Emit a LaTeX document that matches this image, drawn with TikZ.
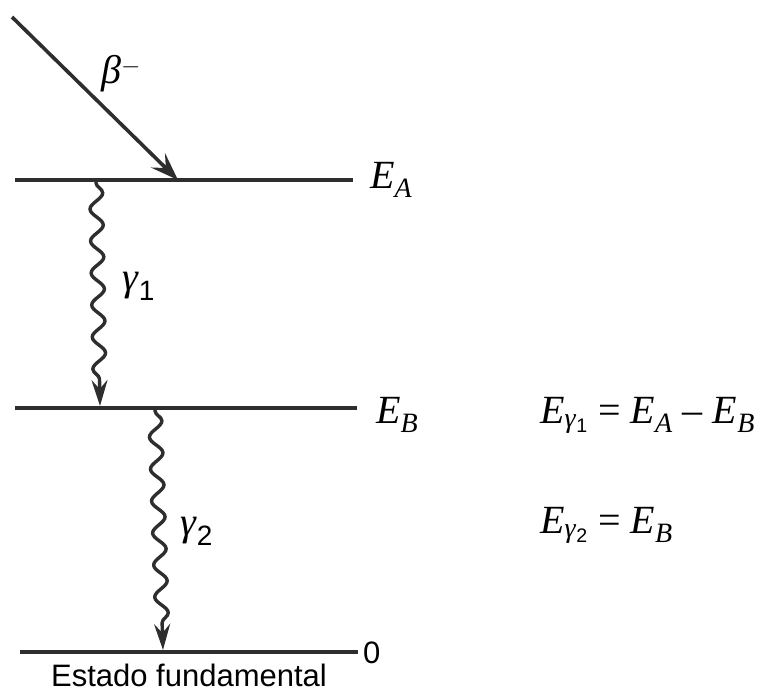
\documentclass[tikz,border=0pt]{standalone}
\usepackage{amsmath}
\usepackage{fontspec}
\setmainfont{Liberation Serif}
\newfontfamily\arialfont{Liberation Sans}
\usetikzlibrary{arrows.meta,decorations.pathmorphing}
\newcommand\Ei[1]{\textit{E}$_{\text{\textit{#1}}}$}
\newcommand\Eg[1]{\textit{E}$_{\text{\textit{γ}$_{\text{\arialfont #1}}$}}$}
\begin{document}
\begin{tikzpicture}[x=1pt,y=-1pt,
  ink/.style={draw=black!82},
  level/.style={ink, line width=3.6pt},
  tip/.style={-{Stealth[length=28pt,width=20pt,inset=11pt]}},
  wtip/.style={-{Stealth[length=26pt,width=16pt,inset=9pt]}},
  wavy/.style={ink, line width=3.4pt, wtip,
    decorate, decoration={snake, amplitude=6.5pt, segment length=32pt, post length=26pt, pre length=2pt}},
  lbl/.style={inner sep=0pt, font=\fontsize{40}{42}\selectfont},
  sans/.style={inner sep=0pt, font=\arialfont\fontsize{31}{33}\selectfont}]
\useasboundingbox (0,0) rectangle (758,694);
\coordinate (A1) at (15,180);
\coordinate (A2) at (353,180);
\coordinate (B1) at (15,408);
\coordinate (B2) at (357,408);
\coordinate (F1) at (20,652);
\coordinate (F2) at (358,652);
\coordinate (betaS) at (12,17);
\coordinate (betaE) at (178,180);
\coordinate (g1S) at (96,181);
\coordinate (g1E) at (100,406);
\coordinate (g2S) at (155,409);
\coordinate (g2E) at (163,650);
\draw[level] (A1) -- (A2);
\draw[level] (B1) -- (B2);
\draw[level] (F1) -- (F2);
\draw[ink, line width=3.6pt, tip] (betaS) -- (betaE);
\draw[wavy] (g1S) -- (g1E);
\draw[wavy] (g2S) -- (g2E);
\node[lbl, anchor=base west] (beta) at (101,83) {\textit{β}$^{-}$};
\node[lbl, anchor=base west] (EA) at (370,188) {\Ei{A}};
\node[lbl, anchor=base west] (EB) at (376,423) {\Ei{B}};
\node[lbl, anchor=base west] (g1) at (122,290) {\textit{γ}$_{\text{\arialfont 1}}$};
\node[lbl, anchor=base west] (g2) at (180,535) {\textit{γ}$_{\text{\arialfont 2}}$};
\node[lbl, anchor=base west] (eq1) at (540,423) {\Eg{1} = \Ei{A} – \Ei{B}};
\node[lbl, anchor=base west] (eq2) at (540,533) {\Eg{2} = \Ei{B}};
\node[sans, anchor=base west] (zero) at (363,663) {0};
\node[sans, anchor=base] (fund) at (189,686) {Estado fundamental};
\end{tikzpicture}
\end{document}
